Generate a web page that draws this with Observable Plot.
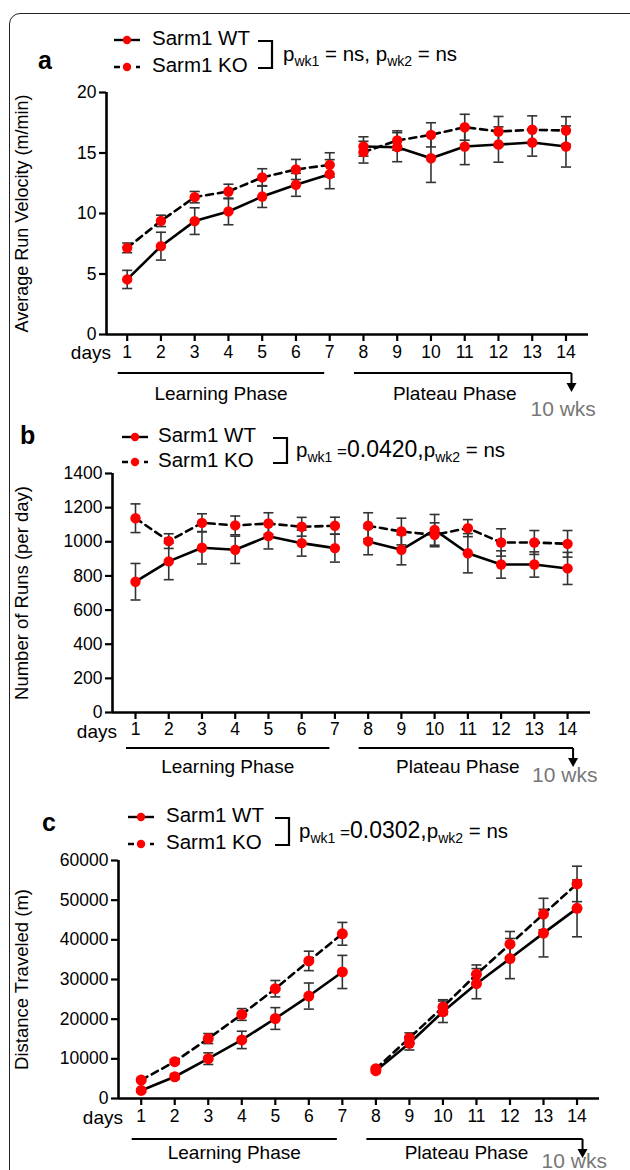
<!DOCTYPE html>
<html><head><meta charset="utf-8">
<script src="https://cdn.jsdelivr.net/npm/d3@7"></script>
<script src="https://cdn.jsdelivr.net/npm/@observablehq/plot@0.6"></script>
<style>
body{margin:0;background:#fff;width:630px;height:1170px;overflow:hidden;position:relative;font-family:"Liberation Sans",Arial,sans-serif;}
#frame{position:absolute;left:9px;top:13px;width:660px;height:1300px;border:1.6px solid #222;border-radius:11px;}
.abs{position:absolute;left:0;}
svg{overflow:visible;}
</style></head><body>
<div id="frame"></div>
<div id="root"></div>
<script>
// ---------- data ----------
const days = [1,2,3,4,5,6,7,8,9,10,11,12,13,14];
const groups = ["Sarm1 WT", "Sarm1 KO"];
const phases = [
  {label: "Learning Phase", start: 1, end: 7, arrow: false},
  {label: "Plateau Phase", start: 8, end: 14, arrow: true}
];
const arrowNote = "10 wks";

// a: Average Run Velocity (m/min)
const velWT    = [4.55, 7.3, 9.37, 10.17, 11.4, 12.37, 13.25, 15.54, 15.48, 14.57, 15.54, 15.7, 15.87, 15.54];
const velWTerr = [0.75, 1.15, 1.1, 1.1, 0.9, 0.95, 1.2, 0.8, 1.2, 2.0, 1.5, 1.46, 1.13, 1.7];
const velKO    = [7.16, 9.39, 11.35, 11.82, 12.98, 13.64, 14.02, 15.07, 16.03, 16.5, 17.13, 16.78, 16.92, 16.86];
const velKOerr = [0.4, 0.47, 0.47, 0.6, 0.72, 0.83, 1.0, 0.9, 0.8, 1.0, 1.07, 1.24, 1.15, 1.14];
const velTicks = [0, 5, 10, 15, 20];

// b: Number of Runs (per day)
const runWT    = [766, 885, 965, 953, 1033, 992, 963, 1002, 953, 1070, 933, 867, 867, 844];
const runWTerr = [107, 107, 95, 80, 75, 76, 82, 78, 88, 90, 115, 80, 74, 94];
const runKO    = [1138, 1004, 1111, 1096, 1107, 1088, 1094, 1094, 1060, 1041, 1080, 996, 996, 988];
const runKOerr = [84, 43, 53, 55, 63, 55, 50, 76, 78, 70, 50, 80, 70, 78];
const runTicks = [0, 200, 400, 600, 800, 1000, 1200, 1400];

// c: Distance Traveled (m)
const distWT    = [2025, 5485, 10042, 14768, 20169, 25823, 31899, 7004, 13924, 21857, 28945, 35274, 41687, 47932];
const distWTerr = [400, 600, 1470, 2190, 2740, 3290, 4180, 500, 1700, 2700, 3800, 5060, 6000, 7170];
const distKO    = [4641, 9282, 15105, 21181, 27679, 34683, 41519, 7510, 15274, 23038, 31308, 38903, 46498, 54093];
const distKOerr = [400, 500, 1266, 1480, 2070, 2450, 2870, 500, 1266, 1860, 2360, 3200, 3970, 4470];
const distTicks = [0, 10000, 20000, 30000, 40000, 50000, 60000];

const pValues = [
  {wk1: "ns", wk2: "ns"},
  {wk1: "0.0420", wk2: "ns"},
  {wk1: "0.0302", wk2: "ns"}
];

// ---------- helpers ----------
const FONT = "Liberation Sans, Arial, sans-serif";
const RED = "#ff0000";

function rowsFor(wt, wtErr, ko, koErr) {
  const rows = [];
  days.forEach((d, i) => {
    const ph = d <= 7 ? 0 : 1;
    rows.push({day: d, group: groups[0], phase: ph, v: wt[i], lo: wt[i] - wtErr[i], hi: wt[i] + wtErr[i]});
    rows.push({day: d, group: groups[1], phase: ph, v: ko[i], lo: ko[i] - koErr[i], hi: ko[i] + koErr[i]});
  });
  return rows;
}

function phaseMark(o) {
  return (index, scales, values, dims) => {
    const x = scales.x;
    const y0 = dims.height - dims.marginBottom;
    const g = d3.create("svg:g").attr("font-family", FONT).attr("text-anchor", "start");
    g.append("text").attr("x", dims.marginLeft + 5).attr("y", y0 + o.lab)
      .attr("text-anchor", "end").attr("dominant-baseline", "middle")
      .attr("font-size", 19).attr("fill", "#000").text("days");
    for (const p of phases) {
      const x1 = x(p.start) - 9;
      const x2 = p.arrow ? x(p.end) + 6 : x(p.end) - 5;
      const yl = y0 + o.line;
      g.append("line").attr("x1", x1).attr("x2", x2).attr("y1", yl).attr("y2", yl)
        .attr("stroke", "#000").attr("stroke-width", 2.2);
      g.append("text").attr("x", p.arrow ? (x1 + x2) / 2 - 8 : (x1 + x2) / 2).attr("y", y0 + o.text)
        .attr("text-anchor", "middle").attr("dominant-baseline", "middle")
        .attr("font-size", 19).attr("fill", "#000").text(p.label);
      if (p.arrow) {
        g.append("line").attr("x1", x2).attr("x2", x2).attr("y1", yl).attr("y2", yl + 12)
          .attr("stroke", "#000").attr("stroke-width", 2);
        g.append("path").attr("d", `M${x2 - 5},${yl + 10}L${x2 + 5},${yl + 10}L${x2},${yl + 19}Z`).attr("fill", "#000");
        g.append("text").attr("x", x2 - 41).attr("y", y0 + o.wks)
          .attr("text-anchor", "start").attr("dominant-baseline", "middle")
          .attr("font-size", 21).attr("fill", "#777").text(arrowNote);
      }
    }
    return g.node();
  };
}

function panel(cfg) {
  const rows = rowsFor(...cfg.series);
  const wt = rows.filter(d => d.group === groups[0]);
  const ko = rows.filter(d => d.group === groups[1]);
  const capW = cfg.cap;
  const plot = Plot.plot({
    width: 630, height: cfg.height,
    marginLeft: cfg.ml, marginRight: cfg.mr, marginTop: cfg.mt, marginBottom: cfg.mb,
    style: {fontFamily: FONT, fontSize: "17px", color: "#000", background: "transparent", overflow: "visible"},
    x: {domain: cfg.xDomain, axis: null},
    y: {domain: [cfg.ticks[0], cfg.ticks[cfg.ticks.length - 1]], axis: null},
    marks: [
      Plot.axisX({ticks: days, tickSize: 7, tickPadding: cfg.tp, tickFormat: d => String(d), label: null, strokeWidth: 2.2, fontSize: 17.5}),
      Plot.axisY({ticks: cfg.ticks, tickSize: 7, tickPadding: 3, tickFormat: d => String(d), label: null, strokeWidth: 2.2, fontSize: 17.5}),
      Plot.ruleY([cfg.ticks[0]], {stroke: "#000", strokeWidth: 2.6}),
      Plot.ruleX([cfg.xDomain[0]], {stroke: "#000", strokeWidth: 2.6}),
      Plot.text([cfg.ylabel], {frameAnchor: "left", textAnchor: "middle", rotate: -90, dx: -cfg.ylx, fontSize: cfg.yfs, fill: "#000"}),
      phaseMark(cfg.off),
      Plot.ruleX(rows, {x: "day", y1: "lo", y2: "hi", stroke: "#333", strokeWidth: 1.6}),
      Plot.link(rows, {x1: d => d.day - capW, x2: d => d.day + capW, y1: "lo", y2: "lo", stroke: "#333", strokeWidth: 1.6}),
      Plot.link(rows, {x1: d => d.day - capW, x2: d => d.day + capW, y1: "hi", y2: "hi", stroke: "#333", strokeWidth: 1.6}),
      Plot.line(wt, {x: "day", y: "v", z: "phase", stroke: "#000", strokeWidth: 2.6}),
      Plot.line(ko, {x: "day", y: "v", z: "phase", stroke: "#000", strokeWidth: 2.6, strokeDasharray: "7,5"}),
      Plot.dot(rows, {x: "day", y: "v", r: cfg.r, fill: RED, stroke: "none"})
    ]
  });
  const div = document.createElement("div");
  div.className = "abs";
  div.style.top = cfg.top + "px";
  div.appendChild(plot);
  document.getElementById("root").appendChild(div);
}

function legend(cfg, p) {
  const svg = d3.create("svg").attr("width", 630).attr("height", 70)
    .style("position", "absolute").style("left", "0px").style("top", cfg.top + "px")
    .attr("font-family", FONT);
  svg.append("text").attr("x", cfg.lx).attr("y", cfg.ly).attr("dominant-baseline", "middle")
    .attr("font-size", 25).attr("font-weight", "bold").text(cfg.letter);
  const rowsY = [cfg.y1, cfg.y2];
  groups.forEach((gname, i) => {
    const y = rowsY[i];
    svg.append("line").attr("x1", cfg.sx).attr("x2", cfg.sx + 26).attr("y1", y).attr("y2", y)
      .attr("stroke", "#000").attr("stroke-width", 2.4).attr("stroke-dasharray", i ? "6,5" : null);
    svg.append("circle").attr("cx", cfg.sx + 13).attr("cy", y).attr("r", 4.2).attr("fill", RED);
    svg.append("text").attr("x", cfg.tx).attr("y", y).attr("dominant-baseline", "middle")
      .attr("font-size", 20.5).text(gname);
  });
  svg.append("path").attr("d", `M${cfg.bx},${cfg.y1 + 1}H${cfg.bx + 14}V${cfg.y2 + 1}H${cfg.bx}`)
    .attr("fill", "none").attr("stroke", "#000").attr("stroke-width", 2.2);
  const t = svg.append("text").attr("x", cfg.px).attr("y", (cfg.y1 + cfg.y2) / 2 + 7).attr("font-size", 20.5);
  const ns = s => s === "ns";
  t.append("tspan").text("p");
  t.append("tspan").attr("font-size", 14).attr("dy", 5).text("wk1");
  if (ns(p.wk1)) {
    t.append("tspan").attr("dy", -5).text(" = ns, ");
  } else {
    t.append("tspan").attr("dy", -5).attr("font-size", 17).text(" =");
    t.append("tspan").attr("font-size", 23).text(p.wk1 + ",");
  }
  t.append("tspan").text("p");
  t.append("tspan").attr("font-size", 14).attr("dy", 5).text("wk2");
  t.append("tspan").attr("dy", -5).text(" = " + p.wk2);
  document.getElementById("root").appendChild(svg.node());
}

// ---------- panels ----------
panel({top: 80, height: 344, ml: 106, mr: 42, mt: 12, mb: 90, xDomain: [0.387, 14.667], ticks: velTicks,
  ylabel: "Average Run Velocity (m/min)", ylx: 84, yfs: 18, series: [velWT, velWTerr, velKO, velKOerr], r: 5.2, cap: 0.15, tp: 4,
  off: {lab: 20, line: 39, text: 61, wks: 76}});
panel({top: 460, height: 332, ml: 112, mr: 40, mt: 13, mb: 80, xDomain: [0.308, 14.69], ticks: runTicks,
  ylabel: "Number of Runs (per day)", ylx: 90, yfs: 18.5, series: [runWT, runWTerr, runKO, runKOerr], r: 5.2, cap: 0.15, tp: 3,
  off: {lab: 21, line: 36, text: 56, wks: 64}});
panel({top: 848, height: 340, ml: 118, mr: 31, mt: 12, mb: 90, xDomain: [0.323, 14.67], ticks: distTicks,
  ylabel: "Distance Traveled (m)", ylx: 96, yfs: 18.5, series: [distWT, distWTerr, distKO, distKOerr], r: 5.5, cap: 0.15, tp: 4,
  off: {lab: 21, line: 41, text: 56, wks: 64}});

legend({top: 0, letter: "a", lx: 38, ly: 62, y1: 40, y2: 67, sx: 114, tx: 152, bx: 258, px: 283}, pValues[0]);
legend({top: 400, letter: "b", lx: 20, ly: 37, y1: 37, y2: 62, sx: 122, tx: 158, bx: 273, px: 296}, pValues[1]);
legend({top: 780, letter: "c", lx: 42, ly: 44, y1: 37, y2: 64, sx: 128, tx: 166, bx: 275, px: 299}, pValues[2]);
</script>
</body></html>
